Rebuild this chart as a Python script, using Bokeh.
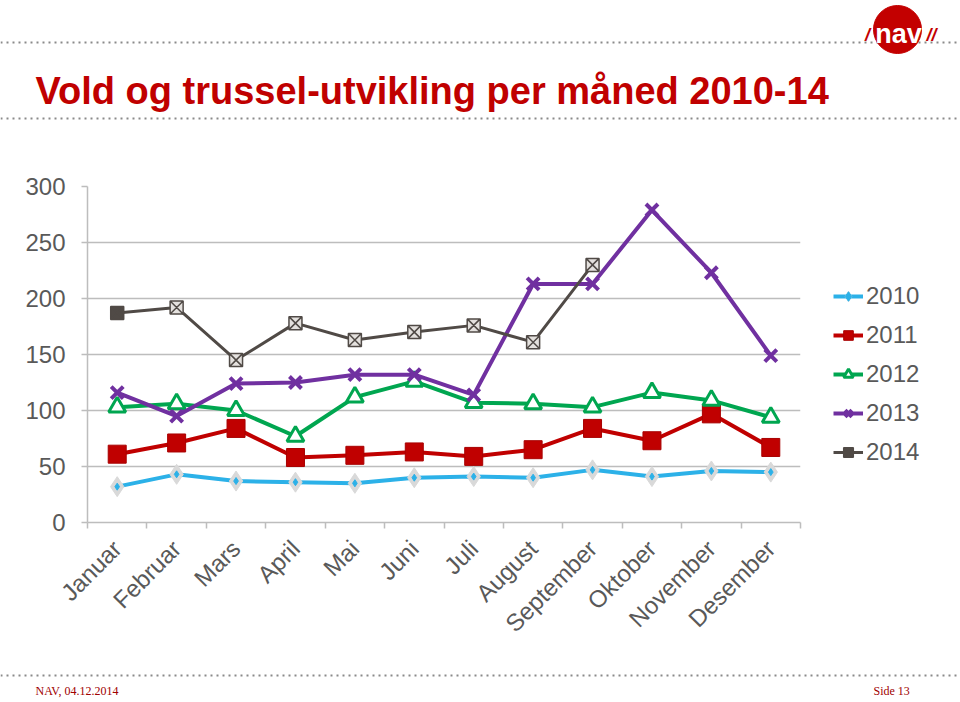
import math
from bokeh.plotting import figure
from bokeh.layouts import column, row
from bokeh.models import Legend, LegendItem, FixedTicker, Range1d
from bokeh.core.properties import value
from bokeh.embed import file_html
from bokeh.resources import INLINE

months = ["Januar", "Februar", "Mars", "April", "Mai", "Juni", "Juli",
          "August", "September", "Oktober", "November", "Desember"]
y2010 = [32, 43, 37, 36, 35, 40, 41, 40, 47, 41, 46, 45]
y2011 = [61, 71, 84, 58, 60, 63, 59, 65, 84, 73, 97, 67]
y2012 = [103, 106, 100, 77, 112, 126, 107, 106, 103, 116, 109, 94]
y2013 = [116, 95, 124, 125, 132, 132, 114, 213, 213, 279, 223, 149]
y2014 = [187, 192, 145, 178, 163, 170, 176, 161, 230]
y_ticks = [0, 50, 100, 150, 200, 250, 300]
series_names = ["2010", "2011", "2012", "2013", "2014"]
title_text = "Vold og trussel-utvikling per måned 2010-14"
logo_text = "nav"
footer_left = "NAV, 04.12.2014"
footer_right = "Side 13"

W = 960
H_HEAD, H_CHART, H_FOOT = 160, 500, 40
FL, FR, FT, FB = 87, 800, 186, 522   # chart frame in page px

GRAY = "#595959"
GRID = "#bdbdbd"
RED = "#c00000"
DOTS = "#8a8a8a"


def deco_figure(height, y_top):
    f = figure(width=W, height=height, output_backend="svg", toolbar_location=None,
               x_range=Range1d(0, W), y_range=Range1d(y_top + height, y_top),
               x_axis_location=None, y_axis_location=None,
               min_border=0, min_border_left=0, min_border_right=0,
               min_border_top=0, min_border_bottom=0)
    f.outline_line_color = None
    f.grid.visible = False
    f.background_fill_color = "white"
    f.border_fill_color = "white"
    return f


# ---------- header ----------
head = deco_figure(H_HEAD, 0)
for yy in (42, 118):
    head.line([0, W], [yy, yy], line_color=DOTS, line_width=2, line_dash="2 4")
head.circle(x=[897], y=[29], radius=24, fill_color="#c30000", line_color="#c30000")
head.text(x=[898], y=[33], text=[logo_text], text_font=value("Liberation Sans"),
          text_font_size="27px", text_font_style="bold", text_color="white",
          text_align="center", text_baseline="middle")
head.text(x=[867, 931], y=[34, 34], text=["/", "//"], text_font=value("Liberation Sans"),
          text_font_size="18px", text_font_style="bold italic", text_color="#c30000",
          text_align="center", text_baseline="middle")
head.text(x=[35], y=[90], text=[title_text], text_font=value("Liberation Sans"),
          text_font_size="38px", text_font_style="bold", text_color=RED,
          text_align="left", text_baseline="alphabetic")

# ---------- chart ----------
p = figure(frame_width=FR - FL, frame_height=FB - FT, output_backend="svg", toolbar_location=None,
           x_range=Range1d(0, len(months)), y_range=Range1d(0, 300),
           min_border_left=FL, min_border_right=W - FR,
           min_border_top=FT - H_HEAD, min_border_bottom=H_HEAD + H_CHART - FB)
p.outline_line_color = None
p.background_fill_color = "white"
p.border_fill_color = "white"

centers = [i + 0.5 for i in range(len(months))]
bounds = list(range(len(months) + 1))
p.xaxis.ticker = FixedTicker(ticks=centers, minor_ticks=bounds)
p.xaxis.major_label_overrides = {c: m for c, m in zip(centers, months)}
p.xaxis.major_label_orientation = math.pi / 4
p.xaxis.major_tick_out = 0
p.xaxis.major_tick_in = 0
p.xaxis.minor_tick_out = 6
p.xaxis.minor_tick_in = 0
p.xaxis.minor_tick_line_color = GRID
p.xaxis.minor_tick_line_width = 1.5
p.xaxis.axis_line_color = GRID
p.xaxis.axis_line_width = 1.5
p.xaxis.major_label_text_font = "Liberation Sans"
p.xaxis.major_label_text_font_size = "24px"
p.xaxis.major_label_text_color = GRAY
p.xaxis.major_label_standoff = 16
p.xgrid.grid_line_color = None

p.yaxis.ticker = FixedTicker(ticks=y_ticks)
p.yaxis.minor_tick_line_color = None
p.yaxis.major_tick_out = 6
p.yaxis.major_tick_in = 0
p.yaxis.major_tick_line_color = GRID
p.yaxis.major_tick_line_width = 1.5
p.yaxis.axis_line_color = GRID
p.yaxis.axis_line_width = 1.5
p.yaxis.major_label_text_font = "Liberation Sans"
p.yaxis.major_label_text_font_size = "24px"
p.yaxis.major_label_text_color = GRAY
p.yaxis.major_label_standoff = 16
p.ygrid.grid_line_color = GRID
p.ygrid.grid_line_width = 1.5
p.ygrid.ticker = FixedTicker(ticks=y_ticks)

items = []
x10 = centers[:len(y2010)]
r = [p.line(x10, y2010, line_color="#2cb1e8", line_width=4),
     p.scatter(x10, y2010, marker="diamond", size=20, fill_color="#d9d9d9", line_color="#d9d9d9"),
     p.scatter(x10, y2010, marker="diamond", size=7, fill_color="#2cb1e8", line_color="#2cb1e8")]
items.append(LegendItem(label=series_names[0], renderers=r))

x11 = centers[:len(y2011)]
r = [p.line(x11, y2011, line_color="#c00000", line_width=4),
     p.scatter(x11, y2011, marker="square", size=18, fill_color="#c00000", line_color="#a80000", line_width=1)]
items.append(LegendItem(label=series_names[1], renderers=r))

x12 = centers[:len(y2012)]
r = [p.line(x12, y2012, line_color="#00a650", line_width=4),
     p.scatter(x12, y2012, marker="triangle", size=17, fill_color="white", line_color="#00a650", line_width=3)]
items.append(LegendItem(label=series_names[2], renderers=r))

x13 = centers[:len(y2013)]
r = [p.line(x13, y2013, line_color="#7030a0", line_width=4),
     p.scatter(x13, y2013, marker="x", size=17, line_color="#7030a0", line_width=4)]
items.append(LegendItem(label=series_names[3], renderers=r))

x14 = centers[:len(y2014)]
fills14 = ["#504a46"] + ["#e4e1de"] * (len(y2014) - 1)
r = [p.line(x14, y2014, line_color="#504a46", line_width=3),
     p.scatter(x14, y2014, marker="square_x", size=13, fill_color=fills14, line_color="#504a46", line_width=1.5)]
items.append(LegendItem(label=series_names[4], renderers=r))

legend = Legend(items=items, location=(33, FB - 466),
                glyph_width=30, glyph_height=24, label_height=24, spacing=11,
                label_standoff=3, padding=0, margin=0,
                label_text_font="Liberation Sans", label_text_font_size="24px",
                label_text_color=GRAY, border_line_color=None,
                background_fill_alpha=0)
p.add_layout(legend, "right")

# ---------- footer ----------
foot = deco_figure(H_FOOT, H_HEAD + H_CHART)
foot.line([0, W], [675, 675], line_color=DOTS, line_width=2, line_dash="2 4")
foot.text(x=[35, 873], y=[690, 690], text=[footer_left, footer_right],
          text_font=value("Liberation Serif"), text_font_size="12px", text_color="#a00000",
          text_align="left", text_baseline="alphabetic")

layout = column(head, row(p), foot, spacing=0)
open("out.html", "w").write(file_html(layout, INLINE))
